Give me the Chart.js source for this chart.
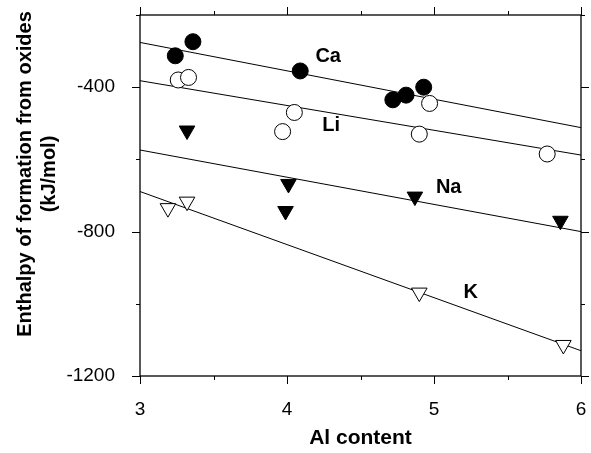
<!DOCTYPE html>
<html>
<head>
<meta charset="utf-8">
<script src="https://cdn.jsdelivr.net/npm/chart.js@4"></script>
<style>
  body { margin: 0; background: #fff; }
  canvas { display: block; }
</style>
</head>
<body>
<canvas id="grafico-entalpia" width="591" height="453"></canvas>
<script>
// dados
const caX = [3.24, 3.36, 4.09, 4.72, 4.81, 4.93];
const caY = [-313, -274, -355, -435, -422, -400];
const liX = [3.26, 3.33, 4.05, 3.97, 4.97, 4.90, 5.77];
const liY = [-380, -373, -470, -523, -445, -530, -585];
const naX = [3.32, 4.01, 3.99, 4.87, 5.86];
const naY = [-520, -668, -743, -703, -770];
const kX = [3.19, 3.32, 4.90, 5.88];
const kY = [-735, -717, -969, -1114];

// retas de ajuste (x = 3 e x = 6)
const fitX = [3, 6];
const caFit = [-276, -512];
const liFit = [-382, -588];
const naFit = [-574, -800];
const kFit = [-689, -1130];

// rotulos das series (coordenadas em unidades dos dados)
const seriesNames = ['Ca', 'Li', 'Na', 'K'];
const labelX = [4.28, 4.30, 5.10, 5.25];
const labelY = [-316, -507, -679, -969];

const xTicks = [3, 4, 5, 6];
const yTicks = [-400, -800, -1200];

const FONT = '"Liberation Sans", Arial, Helvetica, sans-serif';

function pts(xs, ys) {
  return xs.map((x, i) => ({ x: x, y: ys[i] }));
}

function fitLine(ys) {
  return {
    data: pts(fitX, ys),
    showLine: true,
    borderColor: '#000',
    borderWidth: 1,
    pointRadius: 0,
    order: 2
  };
}

// moldura, ticks menores/maiores nos quatro lados, titulos e rotulos
const molduraPlugin = {
  id: 'moldura',
  afterDraw(chart) {
    const c = chart.ctx;
    const a = chart.chartArea;
    const sx = chart.scales.x;
    const sy = chart.scales.y;
    c.save();
    c.strokeStyle = '#000';
    c.lineWidth = 1.3;
    c.strokeRect(a.left, a.top, a.right - a.left, a.bottom - a.top);
    c.lineWidth = 1;
    c.beginPath();
    for (let v = 3; v <= 6.001; v += 0.5) {
      const px = Math.round(sx.getPixelForValue(v)) + 0.5;
      const len = Number.isInteger(v) ? 8 : 4;
      c.moveTo(px, a.bottom); c.lineTo(px, a.bottom + len);
      c.moveTo(px, a.top); c.lineTo(px, a.top - len);
    }
    for (let v = -1200; v <= -200; v += 200) {
      const py = Math.round(sy.getPixelForValue(v)) + 0.5;
      const len = v % 400 === 0 ? 8 : 4;
      c.moveTo(a.left - len, py); c.lineTo(a.left, py);
      c.moveTo(a.right, py); c.lineTo(a.right + len, py);
    }
    c.stroke();

    c.fillStyle = '#000';
    c.textAlign = 'center';
    c.textBaseline = 'middle';
    c.font = 'bold 20px ' + FONT;
    seriesNames.forEach((s, i) => {
      c.fillText(s, sx.getPixelForValue(labelX[i]), sy.getPixelForValue(labelY[i]));
    });

    c.font = 'bold 21px ' + FONT;
    c.fillText('Al content', (a.left + a.right) / 2, 438);

    c.translate(37, 174);
    c.rotate(-Math.PI / 2);
    c.font = 'bold 20px ' + FONT;
    c.fillText('Enthalpy of formation from oxides', 0, -12);
    c.fillText('(kJ/mol)', 0, 12);
    c.restore();
  }
};

const ctx1 = document.getElementById('grafico-entalpia');
const data1 = {
  datasets: [
    fitLine(caFit),
    fitLine(liFit),
    fitLine(naFit),
    fitLine(kFit),
    {
      label: 'Ca',
      data: pts(caX, caY),
      pointStyle: 'circle',
      pointRadius: 8,
      backgroundColor: '#000',
      borderColor: '#000',
      borderWidth: 1,
      order: 1
    },
    {
      label: 'Li',
      data: pts(liX, liY),
      pointStyle: 'circle',
      pointRadius: 8,
      backgroundColor: '#fff',
      borderColor: '#000',
      borderWidth: 1,
      order: 1
    },
    {
      label: 'Na',
      data: pts(naX, naY),
      pointStyle: 'triangle',
      rotation: 180,
      pointRadius: 9,
      backgroundColor: '#000',
      borderColor: '#000',
      borderWidth: 1,
      order: 1
    },
    {
      label: 'K',
      data: pts(kX, kY),
      pointStyle: 'triangle',
      rotation: 180,
      pointRadius: 9,
      backgroundColor: '#fff',
      borderColor: '#000',
      borderWidth: 1,
      order: 1
    }
  ]
};
const options1 = {
  responsive: false,
  animation: false,
  layout: {
    padding: { left: 0, right: 7, top: 15, bottom: 0 }
  },
  plugins: {
    legend: { display: false },
    tooltip: { enabled: false }
  },
  scales: {
    x: {
      type: 'linear',
      min: 3,
      max: 6,
      grid: { display: false },
      border: { display: false },
      afterFit: (scale) => {
        scale.height = 77;
        scale.paddingLeft = 0;
        scale.paddingRight = 0;
      },
      afterBuildTicks: (scale) => { scale.ticks = xTicks.map(v => ({ value: v })); },
      ticks: {
        padding: 14,
        color: '#000',
        font: { family: FONT, size: 19 },
        maxRotation: 0,
        callback: (v) => String(v)
      }
    },
    y: {
      type: 'linear',
      min: -1200,
      max: -200,
      grid: { display: false },
      border: { display: false },
      afterFit: (scale) => {
        scale.width = 140;
        scale.paddingTop = 0;
        scale.paddingBottom = 0;
      },
      afterBuildTicks: (scale) => { scale.ticks = yTicks.map(v => ({ value: v })); },
      ticks: {
        padding: 17,
        color: '#000',
        font: { family: FONT, size: 19 },
        callback: (v) => String(v)
      }
    }
  }
};
new Chart(ctx1, {
  type: 'scatter',
  data: data1,
  options: options1,
  plugins: [molduraPlugin]
});
</script>
</body>
</html>
